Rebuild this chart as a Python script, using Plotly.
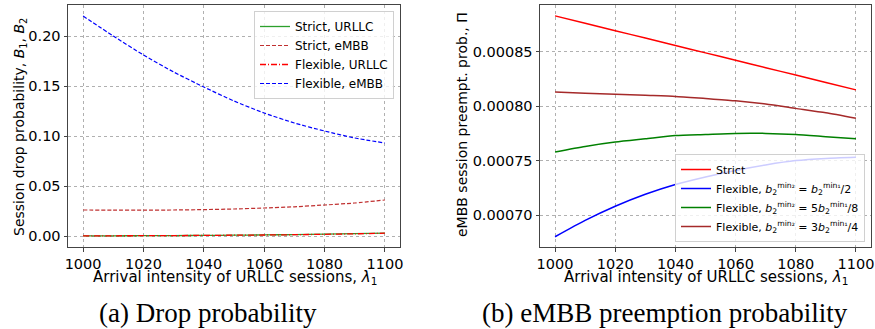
import plotly.graph_objects as go

# ---- data ----
lam = [1000, 1010, 1020, 1030, 1040, 1050, 1060, 1070, 1080, 1090, 1100]

strict_urllc = [0.0001, 0.0002, 0.0003, 0.0004, 0.0006, 0.0008, 0.0011, 0.0014, 0.0018, 0.0023, 0.0029]
strict_embb = [0.0260, 0.0259, 0.0259, 0.0260, 0.0264, 0.0270, 0.0280, 0.0292, 0.0310, 0.0330, 0.0360]
flex_urllc = [0.0001, 0.0002, 0.0003, 0.0004, 0.0006, 0.0008, 0.0010, 0.0013, 0.0017, 0.0022, 0.0028]
flex_embb = [0.220, 0.200, 0.181, 0.164, 0.149, 0.135, 0.123, 0.113, 0.105, 0.098, 0.093]

pre_strict = [0.000883, 0.0008762, 0.0008694, 0.0008626, 0.0008558, 0.000849, 0.0008422, 0.0008354, 0.0008286, 0.0008218, 0.000815]
pre_half = [0.000680, 0.000695, 0.000708, 0.000719, 0.000728, 0.000735, 0.000741, 0.000746, 0.000750, 0.000752, 0.000753]
pre_58 = [0.000758, 0.000763, 0.000767, 0.000770, 0.000773, 0.000774, 0.000775, 0.000775, 0.000774, 0.000772, 0.000770]
pre_34 = [0.000813, 0.000812, 0.000811, 0.000810, 0.000809, 0.000807, 0.000805, 0.000802, 0.000798, 0.000794, 0.000789]

x_ticks = [1000, 1020, 1040, 1060, 1080, 1100]
yl_ticks = [0.00, 0.05, 0.10, 0.15, 0.20]
yr_ticks = [0.00070, 0.00075, 0.00080, 0.00085]

FONT = "DejaVu Sans"
SERIF = "Liberation Serif"
W, H = 875, 329


def px(x):
    return x / W


def py(y):
    return 1 - y / H


fig = go.Figure()


def add(x, y, name, color, dash, width, xa, ya, legend):
    fig.add_trace(go.Scatter(x=x, y=y, name=name, mode="lines",
                             line=dict(color=color, dash=dash, width=width, shape="spline", smoothing=0.6),
                             xaxis=xa, yaxis=ya, legend=legend))


add(lam, strict_urllc, "Strict, URLLC", "#2ca02c", "solid", 1.3, "x", "y", "legend")
add(lam, strict_embb, "Strict, eMBB", "#c03030", "4px,2px", 1.2, "x", "y", "legend")
add(lam, flex_urllc, "Flexible, URLLC", "#ff0000", "6px,2px,1px,2px", 1.3, "x", "y", "legend")
add(lam, flex_embb, "Flexible, eMBB", "#0000ff", "4px,2px", 1.2, "x", "y", "legend")

add(lam, pre_strict, "Strict", "#ff0000", "solid", 1.5, "x2", "y2", "legend2")
add(lam, pre_half, "Flexible, <i>b</i><sub>2</sub><sup>min₂</sup> = <i>b</i><sub>2</sub><sup>min₁</sup>/2",
    "#0000ff", "solid", 1.5, "x2", "y2", "legend2")
add(lam, pre_58, "Flexible, <i>b</i><sub>2</sub><sup>min₂</sup> = 5<i>b</i><sub>2</sub><sup>min₁</sup>/8",
    "#008000", "solid", 1.5, "x2", "y2", "legend2")
add(lam, pre_34, "Flexible, <i>b</i><sub>2</sub><sup>min₂</sup> = 3<i>b</i><sub>2</sub><sup>min₁</sup>/4",
    "#a52a2a", "solid", 1.5, "x2", "y2", "legend2")

axis_common = dict(showline=True, linecolor="#444", linewidth=1, mirror=True,
                   showgrid=True, gridcolor="#b0b0b0", griddash="dot", gridwidth=1,
                   ticks="outside", ticklen=3.5, tickcolor="#444", zeroline=False,
                   automargin=False,
                   tickfont=dict(family=FONT, size=14.5, color="black"))

fig.update_layout(
    width=W, height=H,
    margin=dict(l=0, r=0, t=0, b=0),
    paper_bgcolor="white", plot_bgcolor="white",
    font=dict(family=FONT, color="black"),
    xaxis=dict(domain=[px(68), px(400)], range=[995, 1105], tickvals=x_ticks, anchor="y", **axis_common),
    yaxis=dict(domain=[py(247), py(5)], range=[-0.011, 0.231], tickvals=yl_ticks, tickformat=".2f",
               anchor="x", **axis_common),
    xaxis2=dict(domain=[px(540), px(871)], range=[995, 1105], tickvals=x_ticks, anchor="y2", **axis_common),
    yaxis2=dict(domain=[py(247), py(5)], range=[0.0006706, 0.000893], tickvals=yr_ticks, tickformat=".5f",
                anchor="x2", **axis_common),
    legend=dict(x=px(394), xanchor="right", y=py(11), yanchor="top",
                bgcolor="rgba(255,255,255,0.8)", bordercolor="#d0d0d0", borderwidth=1,
                font=dict(family=FONT, size=12), tracegroupgap=0, itemwidth=30),
    legend2=dict(x=px(865), xanchor="right", y=py(242), yanchor="bottom",
                 bgcolor="rgba(255,255,255,0.8)", bordercolor="#d0d0d0", borderwidth=1,
                 font=dict(family=FONT, size=11), tracegroupgap=0, itemwidth=30),
    showlegend=True,
)

ann = [
    dict(text="Arrival intensity of URLLC sessions, <i>λ</i><sub>1</sub>", x=px(235), y=py(266),
         yanchor="top", font=dict(family=FONT, size=15)),
    dict(text="Arrival intensity of URLLC sessions, <i>λ</i><sub>1</sub>", x=px(706), y=py(266),
         yanchor="top", font=dict(family=FONT, size=15)),
    dict(text="Session drop probability, <i>B</i><sub>1</sub>, <i>B</i><sub>2</sub>", x=px(20), y=py(127),
         textangle=-90, font=dict(family=FONT, size=14)),
    dict(text="eMBB session preempt. prob., Π", x=px(462), y=py(125),
         textangle=-90, font=dict(family=FONT, size=14)),
    dict(text="(a) Drop probability", x=px(208), y=py(313),
         font=dict(family=SERIF, size=27)),
    dict(text="(b) eMBB preemption probability", x=px(665), y=py(313),
         font=dict(family=SERIF, size=27)),
]
for a in ann:
    a.setdefault("yanchor", "middle")
    fig.add_annotation(xref="paper", yref="paper", showarrow=False, xanchor="center", **a)

fig.write_html("out.html", config={"displayModeBar": False},
               post_script="document.body.style.margin='0px';document.body.style.overflow='hidden';")
